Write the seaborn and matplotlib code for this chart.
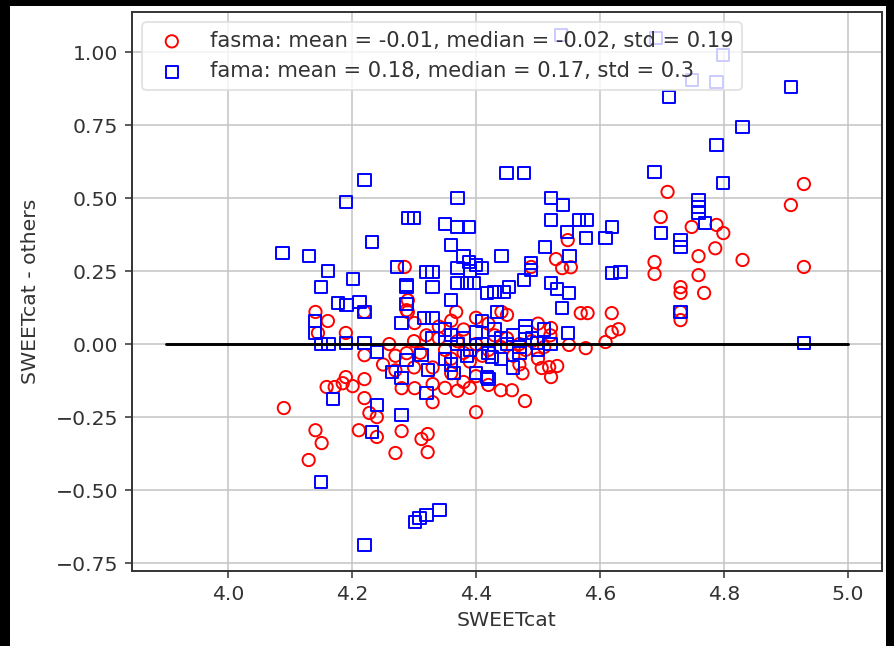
import matplotlib
matplotlib.use("Agg")
import matplotlib.pyplot as plt
import seaborn as sns
import numpy as np
import pandas as pd
from matplotlib.patches import Rectangle

# ---------------- data ----------------
fasma_x = [4.929, 4.908, 4.929, 4.830, 4.709, 4.698, 4.748, 4.788, 4.799, 4.786, 4.759, 4.759, 4.768,
           4.730, 4.730, 4.688, 4.688, 4.548, 4.529, 4.539, 4.553, 4.489, 4.285, 4.290, 4.290,
           4.730, 4.730, 4.569, 4.580, 4.619, 4.630, 4.619, 4.609, 4.577, 4.550, 4.521, 4.518, 4.531,
           4.521, 4.506, 4.458, 4.479, 4.440, 4.470, 4.475,
           4.090, 4.141, 4.151, 4.130, 4.159, 4.172, 4.185, 4.190, 4.201, 4.220, 4.220, 4.228, 4.240,
           4.211, 4.240, 4.280, 4.270, 4.312, 4.322, 4.322, 4.400, 4.330, 4.301, 4.280, 4.330, 4.288,
           4.270, 4.220, 4.190, 4.145, 4.161, 4.141, 4.220, 4.288, 4.301, 4.368, 4.441,
           4.34, 4.35, 4.36, 4.37, 4.38, 4.39, 4.40, 4.41, 4.42, 4.43, 4.44, 4.45, 4.46, 4.47, 4.48,
           4.49, 4.50, 4.51, 4.36, 4.38, 4.40, 4.42, 4.35, 4.37, 4.39, 4.34, 4.36, 4.38, 4.40, 4.42,
           4.45, 4.50, 4.52, 4.33, 4.31, 4.32, 4.30, 4.30, 4.27, 4.25, 4.26]
fasma_y = [0.548, 0.476, 0.264, 0.288, 0.521, 0.435, 0.401, 0.408, 0.380, 0.328, 0.301, 0.236, 0.175,
           0.195, 0.175, 0.281, 0.240, 0.356, 0.291, 0.260, 0.263, 0.264, 0.264, 0.150, 0.110,
           0.110, 0.082, 0.106, 0.106, 0.106, 0.051, 0.041, 0.007, -0.014, -0.003, 0.055, -0.079, -0.075,
           -0.113, -0.082, -0.158, -0.195, -0.158, -0.070, -0.100,
           -0.219, -0.295, -0.339, -0.397, -0.147, -0.147, -0.134, -0.113, -0.144, -0.120, -0.185, -0.236, -0.250,
           -0.295, -0.318, -0.298, -0.373, -0.325, -0.308, -0.370, -0.233, -0.199, -0.151, -0.151, -0.137, -0.031,
           -0.040, -0.038, 0.038, 0.038, 0.079, 0.110, 0.110, 0.116, 0.072, 0.110, 0.110,
           0.02, -0.02, -0.05, 0.01, -0.03, -0.06, 0.00, -0.04, -0.02, 0.03, -0.01, 0.02, -0.04, 0.00, -0.02,
           0.01, -0.05, -0.01, -0.10, -0.13, -0.11, -0.14, -0.15, -0.16, -0.15, 0.06, 0.08, 0.05, 0.09, 0.07,
           0.10, 0.07, 0.03, -0.08, -0.03, 0.03, -0.08, 0.01, -0.09, -0.07, 0.00]

fama_x = [4.537, 4.690, 4.799, 4.748, 4.788, 4.711, 4.908, 4.830, 4.788, 4.688, 4.799,
          4.220, 4.190, 4.370, 4.290, 4.300, 4.350, 4.370, 4.389, 4.232, 4.360, 4.088, 4.130, 4.161,
          4.201, 4.150, 4.441,
          4.449, 4.477, 4.521, 4.540, 4.521, 4.566, 4.579, 4.619, 4.547, 4.577, 4.609, 4.511, 4.551,
          4.489, 4.489, 4.477, 4.521, 4.531, 4.550,
          4.759, 4.759, 4.759, 4.770, 4.698, 4.730, 4.730, 4.619, 4.633,
          4.730, 4.929, 4.548, 4.498, 4.539,
          4.273, 4.288, 4.330, 4.320, 4.330, 4.370, 4.389, 4.400, 4.410, 4.380, 4.390,
          4.150, 4.220, 4.301, 4.309, 4.320, 4.341,
          4.169, 4.240, 4.232, 4.280, 4.320, 4.280, 4.265, 4.322, 4.288, 4.312, 4.240, 4.220, 4.190,
          4.162, 4.150, 4.140, 4.140, 4.177, 4.191, 4.212, 4.220, 4.288, 4.288, 4.280, 4.316, 4.330,
          4.360, 4.370, 4.386, 4.397, 4.418, 4.430, 4.445, 4.453, 4.434,
          4.35, 4.36, 4.37, 4.38, 4.39, 4.40, 4.41, 4.42, 4.43, 4.44, 4.45, 4.46, 4.47, 4.48, 4.49,
          4.50, 4.51, 4.52, 4.36, 4.42, 4.44, 4.46, 4.385, 4.33, 4.35, 4.48, 4.41, 4.40, 4.47,
          4.365, 4.418, 4.426]
fama_y = [1.058, 1.048, 0.990, 0.904, 0.897, 0.846, 0.880, 0.743, 0.682, 0.589, 0.551,
          0.562, 0.486, 0.500, 0.432, 0.432, 0.411, 0.401, 0.401, 0.349, 0.339, 0.312, 0.301, 0.250,
          0.222, 0.195, 0.301,
          0.586, 0.586, 0.500, 0.476, 0.425, 0.425, 0.425, 0.401, 0.384, 0.363, 0.363, 0.332, 0.301,
          0.277, 0.253, 0.219, 0.209, 0.188, 0.175,
          0.493, 0.469, 0.449, 0.414, 0.380, 0.356, 0.332, 0.243, 0.247,
          0.110, 0.003, 0.038, 0.003, 0.123,
          0.264, 0.202, 0.247, 0.247, 0.195, 0.260, 0.280, 0.270, 0.260, 0.300, 0.250,
          -0.473, -0.688, -0.610, -0.596, -0.586, -0.568,
          -0.188, -0.209, -0.301, -0.243, -0.168, -0.116, -0.096, -0.089, -0.055, -0.038, -0.027, 0.003, 0.003,
          0.000, 0.000, 0.038, 0.079, 0.140, 0.134, 0.144, 0.110, 0.195, 0.137, 0.072, 0.089, 0.089,
          0.151, 0.209, 0.209, 0.209, 0.175, 0.178, 0.178, 0.195, 0.110,
          0.05, 0.03, 0.00, 0.02, -0.02, 0.04, 0.00, -0.03, 0.05, 0.02, 0.00, 0.03, -0.01, 0.04, 0.02,
          -0.02, 0.05, 0.00, -0.07, -0.12, -0.05, -0.08, -0.04, 0.02, -0.05, 0.06, 0.08, -0.10, -0.03,
          -0.100, -0.113, -0.045]

zero_x = [3.9, 5.0]
zero_y = [0.0, 0.0]

xlabel = "SWEETcat"
ylabel = "SWEETcat - others"
fasma_label = "fasma: mean = -0.01, median = -0.02, std = 0.19"
fama_label = "fama: mean = 0.18, median = 0.17, std = 0.3"

# ---------------- style ----------------
sns.set_style("ticks", {
    "axes.grid": True,
    "grid.color": "#c4c4c4",
    "grid.linewidth": 1.2,
    "axes.edgecolor": "#333333",
    "xtick.direction": "out",
    "ytick.direction": "out",
})
plt.rcParams["font.family"] = ["DejaVu Sans"]
plt.rcParams["axes.linewidth"] = 1.0

DPI = 139.7
fig = plt.figure(figsize=(894 / DPI, 646 / DPI), dpi=DPI)
fig.patch.set_facecolor("white")
ax = fig.add_axes([132 / 894, 1 - 571 / 646, (882 - 132) / 894, (571 - 12) / 646])

df_fasma = pd.DataFrame({"x": fasma_x, "y": fasma_y})
df_fama = pd.DataFrame({"x": fama_x, "y": fama_y})

sns.scatterplot(data=df_fasma, x="x", y="y", ax=ax, marker="o", s=40,
                facecolor="none", edgecolor="red", linewidth=1.0, label=fasma_label)
sns.scatterplot(data=df_fama, x="x", y="y", ax=ax, marker="s", s=40,
                facecolor="none", edgecolor="blue", linewidth=1.0, label=fama_label)
sns.lineplot(x=zero_x, y=zero_y, ax=ax, color="black", linewidth=1.5)

ax.set_xlim(3.845, 5.055)
ax.set_ylim(-0.777, 1.137)
ax.set_xticks([4.0, 4.2, 4.4, 4.6, 4.8, 5.0])
ax.set_yticks([-0.75, -0.5, -0.25, 0.0, 0.25, 0.5, 0.75, 1.0])
ax.set_xticklabels(["4.0", "4.2", "4.4", "4.6", "4.8", "5.0"])
ax.set_yticklabels(["\u22120.75", "\u22120.50", "\u22120.25", "0.00", "0.25", "0.50", "0.75", "1.00"])
ax.tick_params(labelsize=10.5, length=3.5, width=0.8, colors="#333333", labelcolor="#333333")
ax.set_xlabel(xlabel, fontsize=10.5, color="#333333")
ax.set_ylabel(ylabel, fontsize=10.5, color="#333333", labelpad=8)
ax.set_axisbelow(True)

leg = ax.legend(loc="upper left", fontsize=10.8, framealpha=0.8, edgecolor="#dddddd")
for t in leg.get_texts():
    t.set_color("#333333")

# black frame strips seen around the screenshot
fig.patches.append(Rectangle((0, 0), 10 / 894, 1, transform=fig.transFigure,
                             facecolor="black", edgecolor="none", zorder=10))
fig.patches.append(Rectangle((0, 1 - 6 / 646), 1, 6 / 646, transform=fig.transFigure,
                             facecolor="black", edgecolor="none", zorder=10))
fig.patches.append(Rectangle((886 / 894, 0), 8 / 894, 1, transform=fig.transFigure,
                             facecolor="black", edgecolor="none", zorder=10))

fig.savefig("out.png", dpi=DPI, facecolor=fig.get_facecolor())
